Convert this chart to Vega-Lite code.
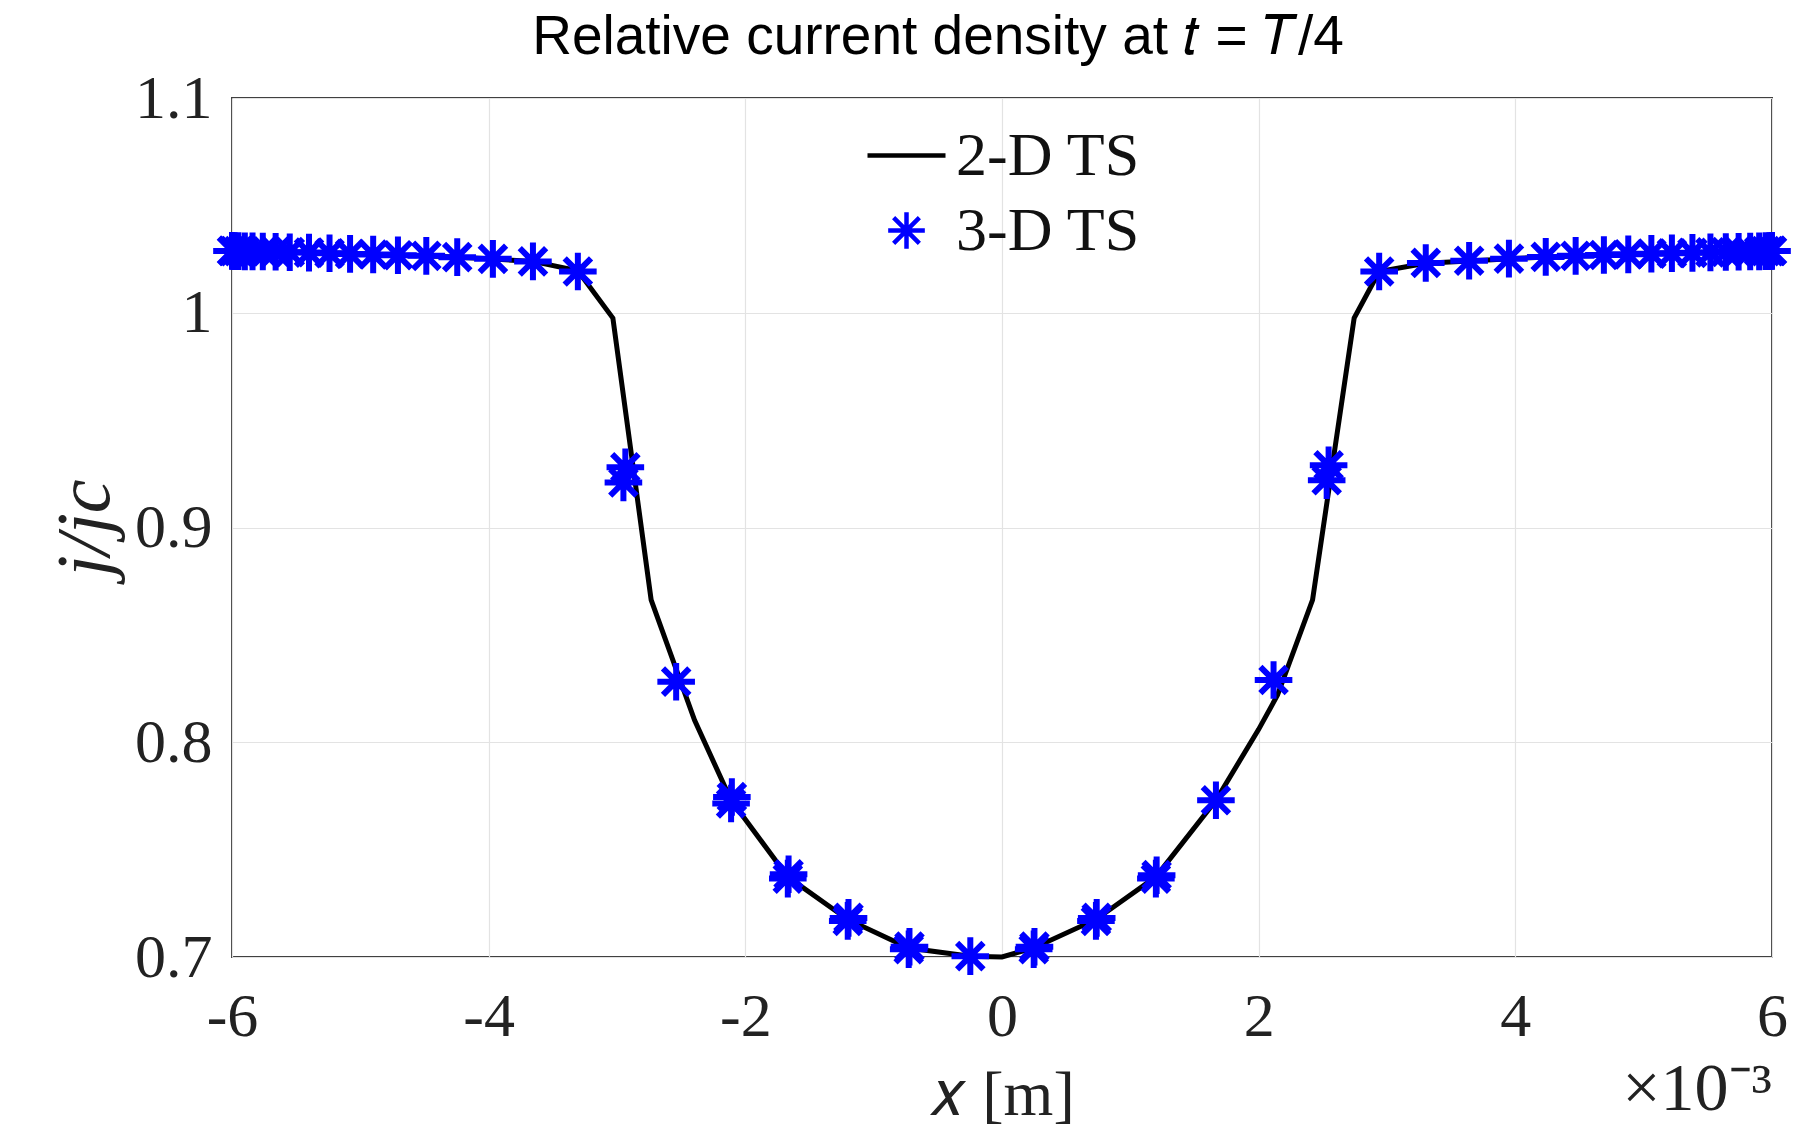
{
  "$schema": "https://vega.github.io/schema/vega-lite/v6.json",
  "autosize": {"type": "none"},
  "width": 1540,
  "height": 859,
  "padding": {"left": 232, "top": 98, "right": 42, "bottom": 178},
  "background": "white",
  "title": {
    "text": "Relative current density at 𝑡 = 𝑇/4",
    "font": "Liberation Sans",
    "fontSize": 55,
    "fontWeight": "normal",
    "color": "#000000",
    "anchor": "middle",
    "frame": "group",
    "dx": -64,
    "dy": 42,
    "baseline": "alphabetic",
    "offset": 0
  },
  "config": {
    "view": {"stroke": "#404040", "strokeWidth": 2},
    "axis": {
      "grid": true,
      "gridColor": "#e3e3e3",
      "gridWidth": 1.2,
      "domain": false,
      "ticks": false,
      "labelFont": "Liberation Serif",
      "labelFontSize": 62,
      "labelColor": "#222222",
      "labelFlush": false,
      "labelOverlap": false,
      "titleFont": "Liberation Serif",
      "titleFontWeight": "normal",
      "titleColor": "#222222",
      "titleFontSize": 64
    },
    "legend": {
      "labelFont": "Liberation Serif",
      "labelFontSize": 62,
      "labelColor": "#111111",
      "labelLimit": 500,
      "symbolSize": 6084,
      "symbolStrokeWidth": 4.5,
      "labelOffset": 8,
      "rowPadding": 0,
      "clipHeight": 75,
      "padding": 0
    }
  },
  "datasets": {
    "ts2d": [
      {"x": -6.0, "y": 1.0287, "series": "2-D TS"},
      {"x": -5.6, "y": 1.0284, "series": "2-D TS"},
      {"x": -5.2, "y": 1.0278, "series": "2-D TS"},
      {"x": -4.8, "y": 1.0270, "series": "2-D TS"},
      {"x": -4.4, "y": 1.0263, "series": "2-D TS"},
      {"x": -4.0, "y": 1.0251, "series": "2-D TS"},
      {"x": -3.655, "y": 1.0239, "series": "2-D TS"},
      {"x": -3.305, "y": 1.0195, "series": "2-D TS"},
      {"x": -3.032, "y": 0.9975, "series": "2-D TS"},
      {"x": -2.734, "y": 0.8663, "series": "2-D TS"},
      {"x": -2.396, "y": 0.8103, "series": "2-D TS"},
      {"x": -2.111, "y": 0.7730, "series": "2-D TS"},
      {"x": -1.669, "y": 0.7373, "series": "2-D TS"},
      {"x": -1.202, "y": 0.7175, "series": "2-D TS"},
      {"x": -0.727, "y": 0.7042, "series": "2-D TS"},
      {"x": -0.247, "y": 0.7004, "series": "2-D TS"},
      {"x": 0.0, "y": 0.7000, "series": "2-D TS"},
      {"x": 0.247, "y": 0.7042, "series": "2-D TS"},
      {"x": 0.732, "y": 0.7175, "series": "2-D TS"},
      {"x": 1.199, "y": 0.7373, "series": "2-D TS"},
      {"x": 1.667, "y": 0.7730, "series": "2-D TS"},
      {"x": 2.0, "y": 0.8060, "series": "2-D TS"},
      {"x": 2.147, "y": 0.8220, "series": "2-D TS"},
      {"x": 2.42, "y": 0.8663, "series": "2-D TS"},
      {"x": 2.744, "y": 0.9975, "series": "2-D TS"},
      {"x": 2.939, "y": 1.0192, "series": "2-D TS"},
      {"x": 3.302, "y": 1.0230, "series": "2-D TS"},
      {"x": 3.64, "y": 1.0241, "series": "2-D TS"},
      {"x": 4.0, "y": 1.0253, "series": "2-D TS"},
      {"x": 4.4, "y": 1.0263, "series": "2-D TS"},
      {"x": 4.8, "y": 1.0270, "series": "2-D TS"},
      {"x": 5.2, "y": 1.0278, "series": "2-D TS"},
      {"x": 5.6, "y": 1.0283, "series": "2-D TS"},
      {"x": 6.0, "y": 1.0287, "series": "2-D TS"}
    ],
    "ts3d": [
      {"x": -6.0, "y": 1.0288, "series": "3-D TS"},
      {"x": -5.995, "y": 1.0288, "series": "3-D TS"},
      {"x": -5.98, "y": 1.0287, "series": "3-D TS"},
      {"x": -5.95, "y": 1.0287, "series": "3-D TS"},
      {"x": -5.9, "y": 1.0286, "series": "3-D TS"},
      {"x": -5.84, "y": 1.0286, "series": "3-D TS"},
      {"x": -5.76, "y": 1.0285, "series": "3-D TS"},
      {"x": -5.66, "y": 1.0284, "series": "3-D TS"},
      {"x": -5.55, "y": 1.0282, "series": "3-D TS"},
      {"x": -5.40, "y": 1.0280, "series": "3-D TS"},
      {"x": -5.24, "y": 1.0277, "series": "3-D TS"},
      {"x": -5.08, "y": 1.0274, "series": "3-D TS"},
      {"x": -4.90, "y": 1.0271, "series": "3-D TS"},
      {"x": -4.707, "y": 1.0268, "series": "3-D TS"},
      {"x": -4.486, "y": 1.0265, "series": "3-D TS"},
      {"x": -4.245, "y": 1.0259, "series": "3-D TS"},
      {"x": -3.967, "y": 1.0251, "series": "3-D TS"},
      {"x": -3.655, "y": 1.0239, "series": "3-D TS"},
      {"x": -3.305, "y": 1.0192, "series": "3-D TS"},
      {"x": -2.95, "y": 0.9210, "series": "3-D TS"},
      {"x": -2.935, "y": 0.9280, "series": "3-D TS"},
      {"x": -2.539, "y": 0.8282, "series": "3-D TS"},
      {"x": -2.111, "y": 0.7715, "series": "3-D TS"},
      {"x": -2.105, "y": 0.7745, "series": "3-D TS"},
      {"x": -1.669, "y": 0.7365, "series": "3-D TS"},
      {"x": -1.663, "y": 0.7385, "series": "3-D TS"},
      {"x": -1.202, "y": 0.7168, "series": "3-D TS"},
      {"x": -1.196, "y": 0.7182, "series": "3-D TS"},
      {"x": -0.727, "y": 0.7036, "series": "3-D TS"},
      {"x": -0.721, "y": 0.7048, "series": "3-D TS"},
      {"x": -0.247, "y": 0.7004, "series": "3-D TS"},
      {"x": 0.247, "y": 0.7036, "series": "3-D TS"},
      {"x": 0.253, "y": 0.7048, "series": "3-D TS"},
      {"x": 0.732, "y": 0.7168, "series": "3-D TS"},
      {"x": 0.738, "y": 0.7182, "series": "3-D TS"},
      {"x": 1.199, "y": 0.7365, "series": "3-D TS"},
      {"x": 1.205, "y": 0.7381, "series": "3-D TS"},
      {"x": 1.667, "y": 0.7730, "series": "3-D TS"},
      {"x": 2.116, "y": 0.8290, "series": "3-D TS"},
      {"x": 2.53, "y": 0.9220, "series": "3-D TS"},
      {"x": 2.545, "y": 0.9290, "series": "3-D TS"},
      {"x": 2.939, "y": 1.0192, "series": "3-D TS"},
      {"x": 3.302, "y": 1.0232, "series": "3-D TS"},
      {"x": 3.64, "y": 1.0242, "series": "3-D TS"},
      {"x": 3.95, "y": 1.0252, "series": "3-D TS"},
      {"x": 4.237, "y": 1.0260, "series": "3-D TS"},
      {"x": 4.47, "y": 1.0265, "series": "3-D TS"},
      {"x": 4.69, "y": 1.0269, "series": "3-D TS"},
      {"x": 4.88, "y": 1.0272, "series": "3-D TS"},
      {"x": 5.06, "y": 1.0275, "series": "3-D TS"},
      {"x": 5.22, "y": 1.0277, "series": "3-D TS"},
      {"x": 5.38, "y": 1.0279, "series": "3-D TS"},
      {"x": 5.52, "y": 1.0281, "series": "3-D TS"},
      {"x": 5.64, "y": 1.0283, "series": "3-D TS"},
      {"x": 5.74, "y": 1.0284, "series": "3-D TS"},
      {"x": 5.83, "y": 1.0285, "series": "3-D TS"},
      {"x": 5.9, "y": 1.0286, "series": "3-D TS"},
      {"x": 5.95, "y": 1.0287, "series": "3-D TS"},
      {"x": 5.98, "y": 1.0287, "series": "3-D TS"},
      {"x": 5.995, "y": 1.0288, "series": "3-D TS"},
      {"x": 6.0, "y": 1.0288, "series": "3-D TS"}
    ],
    "note": [
      {"label": "×10⁻³"}
    ]
  },
  "layer": [
    {
      "data": {"name": "ts2d"},
      "mark": {"type": "line", "color": "#000000", "strokeWidth": 5},
      "encoding": {
        "x": {
          "field": "x",
          "type": "quantitative",
          "scale": {"domain": [-6, 6], "nice": false, "zero": false},
          "axis": {
            "values": [-6, -4, -2, 0, 2, 4, 6],
            "labelExpr": "toString(datum.value)",
            "labelPadding": 29,
            "title": "𝑥 [m]",
            "titleBaseline": "alphabetic",
            "titleY": 157
          }
        },
        "y": {
          "field": "y",
          "type": "quantitative",
          "scale": {"domain": [0.7, 1.1], "nice": false, "zero": false},
          "axis": {
            "values": [0.7, 0.8, 0.9, 1.0, 1.1],
            "format": "~g",
            "labelPadding": 20,
            "title": "j/jc",
            "titleFontStyle": "italic",
            "titleFontSize": 76,
            "titleBaseline": "alphabetic",
            "titleX": -124
          }
        }
      }
    },
    {
      "data": {"name": "ts3d"},
      "mark": {"type": "point", "filled": false, "size": 6400, "strokeWidth": 6, "opacity": 1},
      "encoding": {
        "x": {"field": "x", "type": "quantitative"},
        "y": {"field": "y", "type": "quantitative"},
        "color": {
          "field": "series",
          "type": "nominal",
          "scale": {"domain": ["2-D TS", "3-D TS"], "range": ["#000000", "#0000ff"]},
          "legend": {"title": null, "orient": "none", "legendX": 633, "legendY": 20}
        },
        "shape": {
          "field": "series",
          "type": "nominal",
          "scale": {
            "domain": ["2-D TS", "3-D TS"],
            "range": ["stroke", "M-0.47,0L0.47,0M0,-0.47L0,0.47M-0.33,-0.33L0.33,0.33M-0.33,0.33L0.33,-0.33"]
          },
          "legend": {"title": null, "orient": "none", "legendX": 633, "legendY": 20}
        }
      }
    },
    {
      "data": {"name": "note"},
      "mark": {"type": "text", "font": "Liberation Serif", "fontSize": 68, "color": "#222222", "align": "right", "baseline": "alphabetic", "dy": 153},
      "encoding": {
        "x": {"datum": 6},
        "y": {"datum": 0.7},
        "text": {"field": "label"}
      }
    }
  ]
}
